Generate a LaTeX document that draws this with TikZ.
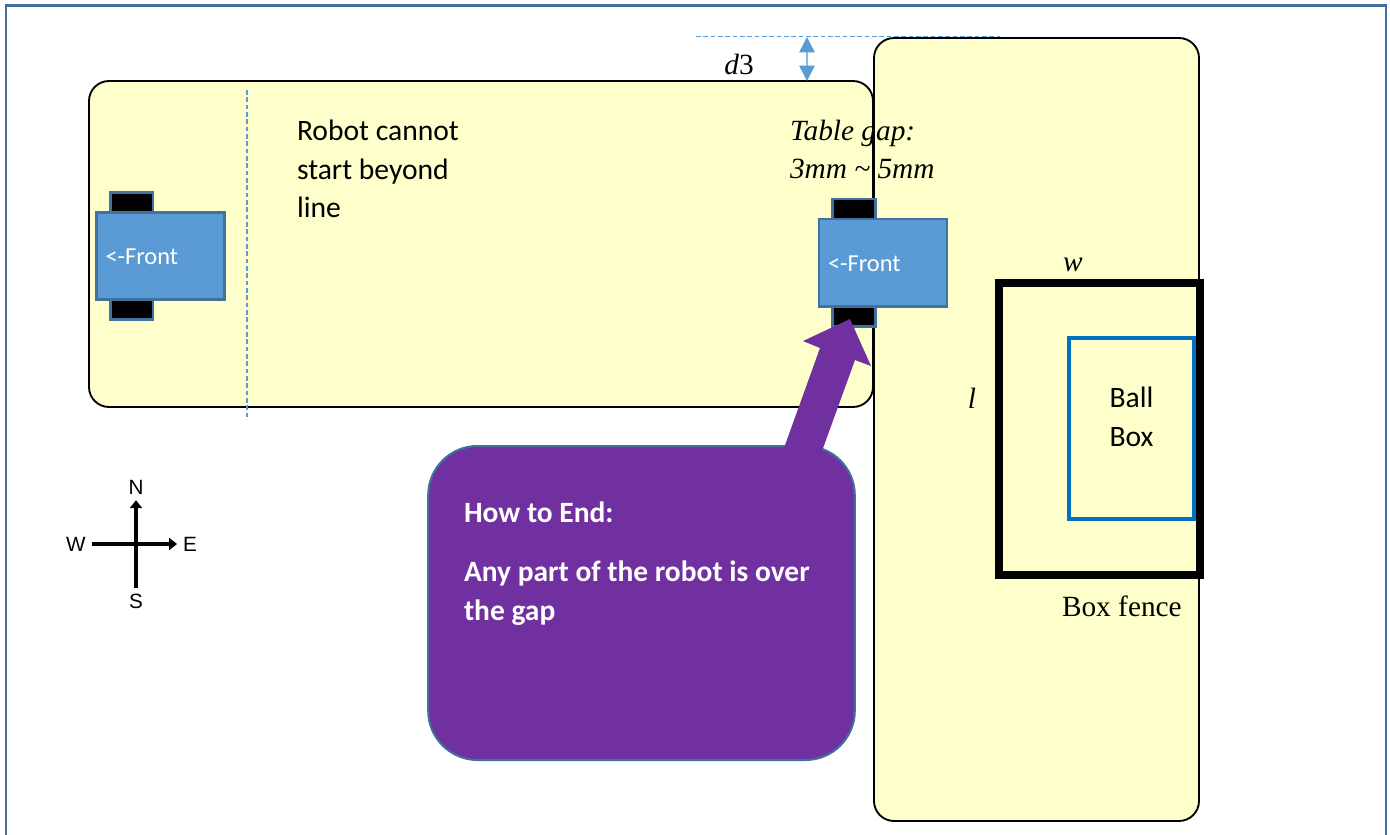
\documentclass[tikz,border=0pt]{standalone}
\usepackage{fontspec}
\setmainfont{Liberation Serif}
\newfontfamily\calibrifont{Carlito}
\newfontfamily\arialfont{Liberation Sans}
\usetikzlibrary{positioning, arrows.meta}
\definecolor{tablecol}{HTML}{FFFFCC}
\definecolor{robotcol}{HTML}{5B9BD5}
\definecolor{edgecol}{HTML}{41719C}
\definecolor{endcol}{HTML}{7030A0}
\definecolor{ballcol}{HTML}{0070C0}
\definecolor{framecol}{HTML}{41719C}
\newcommand{\fronttext}{\raisebox{-6.5pt}[0pt][0pt]{<-Front}}
\tikzset{
  tablebox/.style = {draw=black, fill=tablecol, line width=1.4pt, rounded corners=15pt},
  robotbody/.style = {draw=edgecol, fill=robotcol, line width=2pt, text=white, align=left,
    inner xsep=6.75pt, text width=82.5pt, minimum height=65.5pt,
    font=\calibrifont\fontsize{18.3}{22}\selectfont},
  wheel/.style = {draw=edgecol, fill=black, line width=2pt, minimum width=32pt, minimum height=15pt},
  callibri/.style = {font=\calibrifont\fontsize{22.2}{29}\selectfont, align=left, text=black},
  serifit/.style = {font=\itshape\fontsize{22}{28.5}\selectfont, align=left},
  compasstxt/.style = {font=\arialfont\fontsize{15.5}{17}\selectfont, inner sep=4.5pt},
  compassline/.style = {line width=2.6pt, black},
  measure/.style = {draw=robotcol, line width=0.85pt, dashed, dash pattern=on 3.5pt off 2pt},
}

\begin{document}
\begin{tikzpicture}[x=0.75pt, y=-0.75pt, every node/.style = {inner sep=0pt, outer sep=0pt}]
  \useasboundingbox (0,0) rectangle (1390,835);
  % page frame, open at the bottom
  \draw[framecol, line width=2pt] (6,835) -- (6,5.5) -- (1386,5.5) -- (1386,835);

  % the two tables
  \node[tablebox, minimum width=588pt, minimum height=244.5pt] (tableA) at (481,244) {};
  \node[tablebox, minimum width=243.75pt, minimum height=587.25pt] (tableB) at (1036.5,429.5) {};

  % start line and d3
  \coordinate (startTop) at (247,90);
  \coordinate (startBot) at (247,420);
  \draw[measure] (startTop) -- (startBot);
  \coordinate (levelL) at (696,36.5);
  \coordinate (levelR) at (1000,36.5);
  \draw[measure] (levelL) -- (levelR);
  \coordinate (d3Top) at (807,37);
  \coordinate (d3Bot) at (807,81);
  \draw[{Triangle[length=11.5pt,width=11.5pt,color=robotcol]}-{Triangle[length=11.5pt,width=11.5pt,color=robotcol]},
    draw=robotcol!70, line width=1.1pt] (d3Top) -- (d3Bot);
  \node[font=\fontsize{22}{25}\selectfont, anchor=base] (d3Lbl) at (739,74) {\textit{d}3};

  % robots
  \node[robotbody] (robotA) at (160.5,256) {\fronttext};
  \node[wheel, above=0pt of robotA, xshift=-21.75pt] (wheelAN) {};
  \node[wheel, below=0pt of robotA, xshift=-21.75pt] (wheelAS) {};
  \node[robotbody] (robotB) at (883,262.5) {\fronttext};
  \node[wheel, above=0pt of robotB, xshift=-21.75pt] (wheelBN) {};
  \node[wheel, below=0pt of robotB, xshift=-21.75pt] (wheelBS) {};

  \node[callibri, anchor=north west] (startLbl) at (297,120) {Robot cannot\\start beyond\\line};
  \node[serifit, anchor=north west] (gapLbl) at (790,120) {Table gap:\\3mm \textasciitilde{} 5mm};

  % box fence and ball box
  \node[draw=black, line width=6pt, minimum width=150.75pt, minimum height=219pt] (fence) at (1099.5,429) {};
  \node[draw=ballcol, line width=2.3pt, minimum width=93.75pt, minimum height=135.75pt] (ballBox) at (1131.5,428.5) {};
  \node[callibri, anchor=north, align=center] (ballLbl) at (1131.5,387) {Ball\\Box};
  \node[serifit, anchor=base] (wLbl) at (1073,271) {w};
  \node[serifit, anchor=base] (lLbl) at (972,408) {l};
  \node[font=\fontsize{22}{25}\selectfont, anchor=base west] (fenceLbl) at (1062,616) {Box fence};

  % how to end
  \node[draw=edgecol, fill=endcol, line width=1.5pt, rounded corners=37pt,
    minimum width=320pt, minimum height=235.5pt] (endBox) at (641.5,603) {};
  \fill[endcol] (784,448) -- (820,348) -- (803,341) -- (850,319) -- (871,366) -- (855,360) -- (822,451) -- cycle;
  \node[callibri, text=white, anchor=north west, font=\calibrifont\bfseries\fontsize{22.1}{29}\selectfont] (endLbl) at (464,502)
    {How to End:\\[15pt]Any part of the robot is over\\the gap};

  % compass
  \node[compasstxt] (compN) at (136,487) {N};
  \node[compasstxt] (compS) at (136,601) {S};
  \node[compasstxt] (compW) at (76,544) {W};
  \node[compasstxt] (compE) at (190,544) {E};
  \draw[compassline, -{Triangle[length=6pt,width=9pt]}] (compS) -- (compN);
  \draw[compassline, -{Triangle[length=6pt,width=9pt]}] (compW) -- (compE);
\end{tikzpicture}
\end{document}
